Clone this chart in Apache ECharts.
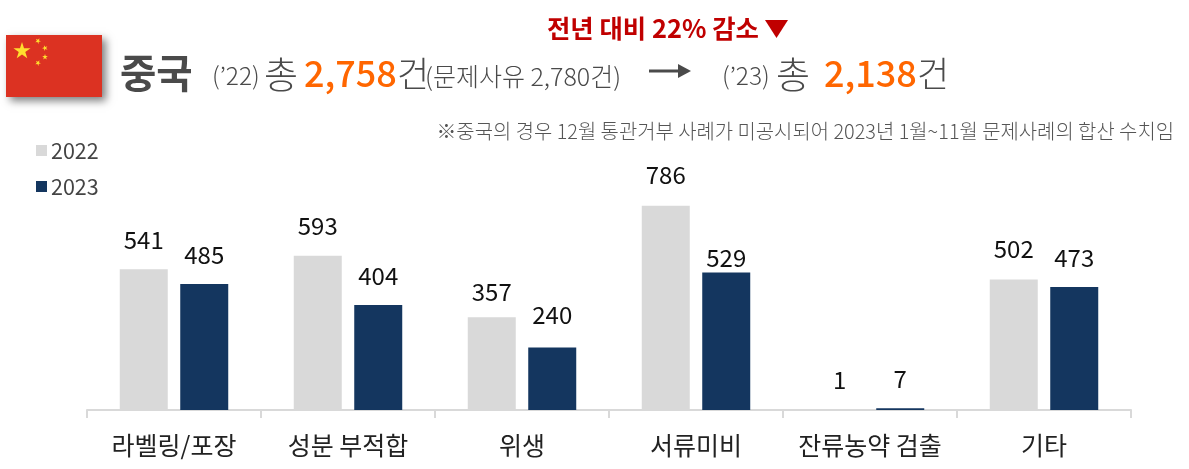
<!DOCTYPE html>
<html><head><meta charset="utf-8">
<style>html,body{margin:0;padding:0;background:#fff}#c{width:1189px;height:469px}</style>
<script src="https://cdn.jsdelivr.net/npm/echarts@6/dist/echarts.min.js"></script>
</head><body><div id="c"></div>
<script>
const categories = ['라벨링/포장','성분 부적합','위생','서류미비','잔류농약 검출','기타'];
const seriesNames = ['2022','2023'];
const values2022 = [541,593,357,786,1,502];
const values2023 = [485,404,240,529,7,473];
const labelLift2022 = [17,18,13,19,18,19];
const labelLift2023 = [17,17,21,3,17,17];
const FONT = '"Noto Sans CJK KR","Noto Sans",sans-serif';
const GREY='#d9d9d9', NAVY='#14365f', ORANGE='#ff6600', DARK='#4a4a4a', RED='#c00000';

function star(cx,cy,r,rot){
  const p=[];
  for(let i=0;i<10;i++){
    const a=rot-Math.PI/2+i*Math.PI/5, q=i%2?r*0.382:r;
    p.push([cx+q*Math.cos(a),cy+q*Math.sin(a)]);
  }
  return {type:'polygon',silent:true,z:12,shape:{points:p},style:{fill:'#ffde2e'}};
}
function txt(x,y,text,size,fill,weight,extra){
  return {type:'text',x,y,silent:true,z:10,style:Object.assign({text,font:(weight||'normal')+' '+size+'px '+FONT,fill,textVerticalAlign:'middle',textAlign:'left'},extra||{})};
}
function barData(vals,lifts){
  return vals.map((v,i)=>({value:v,label:{distance:lifts[i]}}));
}
const chart=echarts.init(document.getElementById('c'),null,{renderer:'canvas'});
const label={show:true,position:'top',color:'#111',fontFamily:FONT,fontSize:24};
chart.setOption({
  animation:false,
  backgroundColor:'#fff',
  grid:{left:87,right:58,top:150,height:260},
  legend:{orient:'vertical',left:31,top:134,itemWidth:11,itemHeight:11,itemGap:13,icon:'rect',
    itemStyle:{borderWidth:0},
    textStyle:{fontFamily:FONT,fontSize:21.5,color:'#444',padding:[0,0,0,-1],lineHeight:23},
    data:seriesNames},
  xAxis:{type:'category',data:categories,
    axisLine:{lineStyle:{color:'#d9d9d9',width:2}},
    axisTick:{show:true,length:8,interval:0,lineStyle:{color:'#d9d9d9',width:2}},
    axisLabel:{color:'#222',fontFamily:FONT,fontSize:25,margin:23,interval:0}},
  yAxis:{type:'value',min:0,max:1000,show:false,splitLine:{show:false}},
  series:[
    {name:seriesNames[0],type:'bar',data:barData(values2022,labelLift2022),barWidth:48,barGap:'26%',itemStyle:{color:GREY},label},
    {name:seriesNames[1],type:'bar',data:barData(values2023,labelLift2023),barWidth:48,barGap:'26%',itemStyle:{color:NAVY},label}
  ],
  graphic:[
    {type:'rect',silent:true,z:9,shape:{x:6,y:35,width:96,height:62},
      style:{fill:'#dc3222',shadowBlur:8,shadowColor:'rgba(0,0,0,0.5)',shadowOffsetX:4,shadowOffsetY:4}},
    star(22,51,9,0),star(38,41,3,0.5),star(45,48,3,0.9),star(45,57,3,0),star(38,63,3,0.5),
    txt(120,73,'중국',39.5,DARK,'bold'),
    txt(212,76,'(’22)',24.5,DARK,'300'),
    txt(264,75,'총',37,DARK,'300'),
    txt(304,73,'2,758',36,ORANGE,'500'),
    txt(397,74,'건',35,DARK,'300'),
    txt(425,76,'(문제사유 2,780건)',25,DARK,'300'),
    {type:'line',silent:true,z:10,shape:{x1:649,y1:71,x2:680,y2:71},style:{stroke:DARK,lineWidth:3}},
    {type:'polygon',silent:true,z:10,shape:{points:[[678,64],[691,71],[678,78]]},style:{fill:DARK}},
    txt(722,76,'(’23)',24.5,DARK,'300'),
    txt(776,75,'총',37,DARK,'300'),
    txt(824,73,'2,138',36,ORANGE,'500'),
    txt(917,74,'건',35,DARK,'300'),
    txt(547,28,'전년 대비 22% 감소',25.4,RED,'bold'),
    {type:'polygon',silent:true,z:10,shape:{points:[[765,20],[788,20],[776.5,38]]},style:{fill:RED}},
    txt(1174,131,'※중국의 경우 12월 통관거부 사례가 미공시되어 2023년 1월~11월 문제사례의 합산 수치임',19.9,'#555','300',{textAlign:'right'})
  ]
});
</script></body></html>
